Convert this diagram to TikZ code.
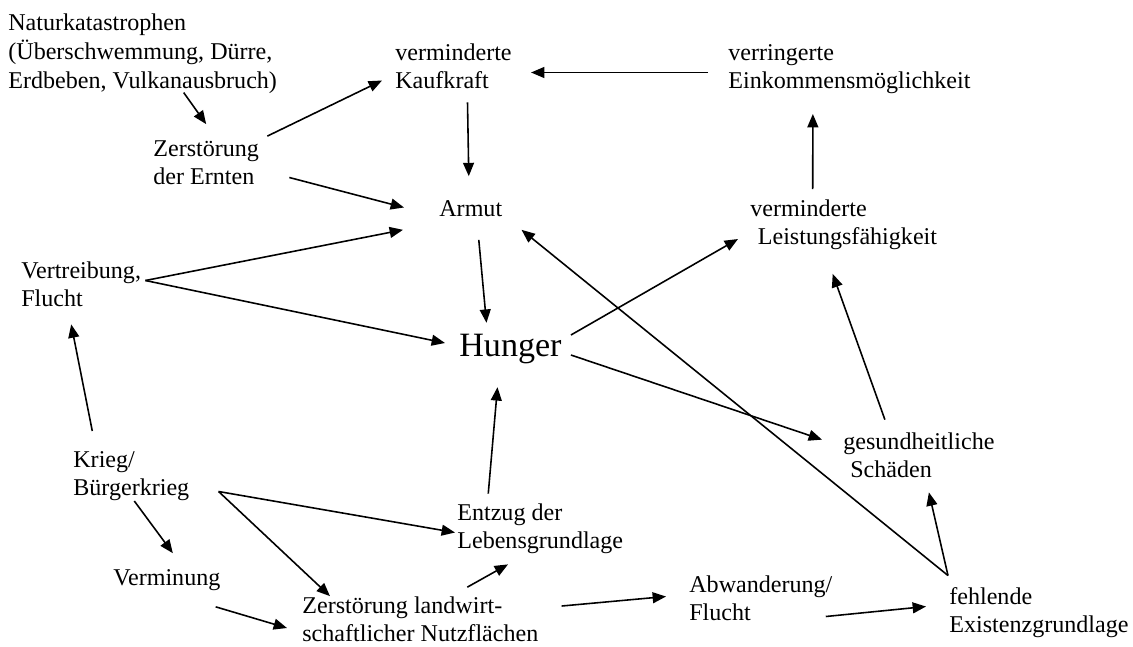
\documentclass[tikz,border=0pt]{standalone}
\usepackage{fontspec}
\setmainfont{Liberation Serif}
\usepackage{tikz}
\usetikzlibrary{arrows.meta}

\begin{document}
\begin{tikzpicture}[
        txt/.style={font=\fontsize{13.7}{15.9}\selectfont, align=left, inner sep=0pt, anchor=west,
            execute at begin node=\strut, execute at end node=\strut},
        bigtxt/.style={txt, font=\fontsize{19.4}{22.6}\selectfont},
        arrow/.style={-{Triangle[length=7.6pt, width=6.2pt]}, line width=0.9pt, draw=black},
    ]
        \useasboundingbox (0, 0) rectangle (22.66, -12.92);

        \node[txt, font=\fontsize{13.7}{16.5}\selectfont] (natur) at (0.16, -1.11) {Naturkatastrophen\\(Überschwemmung, Dürre,\\Erdbeben, Vulkanausbruch)};
        \node[txt] (ernten) at (3.06, -3.33) {Zerstörung\\der Ernten};
        \node[txt] (kaufkraft) at (7.9, -1.41) {verminderte\\Kaufkraft};
        \node[txt] (einkommen) at (14.56, -1.41) {verringerte\\Einkommensmöglichkeit};
        \node[txt] (armut) at (8.78, -4.21) {Armut};
        \node[txt] (leistung) at (15.0, -4.52) {verminderte\\\hspace*{0.15cm}Leistungsfähigkeit};
        \node[txt] (vertreib) at (0.42, -5.77) {Vertreibung,\\Flucht};
        \node[bigtxt] (hunger) at (9.18, -6.98) {Hunger};
        \node[txt] (krieg) at (1.46, -9.55) {Krieg/\\Bürgerkrieg};
        \node[txt] (vermin) at (2.26, -11.59) {Verminung};
        \node[txt] (zerstland) at (6.04, -12.46) {Zerstörung landwirt-\\schaftlicher Nutzflächen};
        \node[txt] (entzug) at (9.14, -10.61) {Entzug der\\Lebensgrundlage};
        \node[txt] (abwand) at (13.78, -12.05) {Abwanderung/\\Flucht};
        \node[txt] (fehlend) at (18.98, -12.29) {fehlende\\Existenzgrundlage};
        \node[txt] (gesund) at (16.86, -9.19) {gesundheitliche\\\hspace*{0.14cm}Schäden};

        \draw[arrow] ([shift={(0.82, 0.1)}]natur.south) -- ([yshift=0.32cm]ernten.north);
        \draw[arrow] ([shift={(0.16, 0.08)}]ernten.north east) -- ([shift={(-0.26, -0.2)}]kaufkraft.west);
        \draw[arrow] ([shift={(-0.4, -0.04)}]einkommen.west) -- ([shift={(0.38, -0.04)}]kaufkraft.east);
        \draw[arrow] ([shift={(0.28, -0.1)}]kaufkraft.south) -- ([shift={(-0.04, 0.4)}]armut.north);
        \draw[arrow] ([shift={(0.6, -0.22)}]ernten.east) -- ([shift={(-0.7, 0.06)}]armut.west);
        \draw[arrow] ([shift={(0.08, 0.16)}]vertreib.east) -- ([shift={(-0.72, -0.1)}]armut.south west);
        \draw[arrow] ([shift={(0.08, 0.16)}]vertreib.east) -- ([shift={(-0.28, 0.12)}]hunger.west);
        \draw[arrow] ([shift={(0.16, -0.3)}]armut.south) -- ([shift={(-0.48, 0.12)}]hunger.north);
        \draw[arrow] ([shift={(0.18, 0.28)}]hunger.east) -- ([shift={(-0.24, -0.26)}]leistung.west);
        \draw[arrow] ([shift={(0.18, -0.12)}]hunger.east) -- ([shift={(-0.42, -0.14)}]gesund.north west);
        \draw[arrow] ([shift={(-0.02, 0.24)}]fehlend.north west) -- ([shift={(0.38, -0.1)}]armut.south east);
        \draw[arrow] ([shift={(-0.62, 0.2)}]leistung.north) -- ([shift={(-0.73, -0.34)}]einkommen.south);
        \draw[arrow] ([shift={(-0.68, 0.26)}]gesund.north) -- ([shift={(-0.22, -0.42)}]leistung.south);
        \draw[arrow] ([shift={(-0.02, 0.24)}]fehlend.north west) -- ([shift={(0.2, -0.12)}]gesund.south);
        \draw[arrow] ([shift={(-0.14, -0.28)}]abwand.east) -- ([shift={(-0.46, 0.16)}]fehlend.west);
        \draw[arrow] ([shift={(-1.04, 0.2)}]entzug.north) -- ([shift={(-0.26, -0.36)}]hunger.south);
        \draw[arrow] ([shift={(-0.78, 0.4)}]krieg.north) -- ([shift={(-0.2, -0.18)}]vertreib.south);
        \draw[arrow] ([shift={(0.06, 0.06)}]krieg.south) -- ([shift={(0.12, 0.24)}]vermin.north);
        \draw[arrow] ([shift={(0.58, -0.28)}]krieg.east) -- ([shift={(0.56, 0)}]zerstland.north west);
        \draw[arrow] ([shift={(0.58, -0.28)}]krieg.east) -- ([shift={(-0.04, -0.04)}]entzug.west);
        \draw[arrow] ([shift={(-0.1, -0.26)}]vermin.south east) -- ([shift={(-0.3, -0.1)}]zerstland.west);
        \draw[arrow] ([shift={(0.94, 0.18)}]zerstland.north) -- ([shift={(1.02, -0.14)}]entzug.south west);
        \draw[arrow] ([shift={(0.46, 0.34)}]zerstland.east) -- ([shift={(-0.46, 0.12)}]abwand.west);

    \end{tikzpicture}
\end{document}
